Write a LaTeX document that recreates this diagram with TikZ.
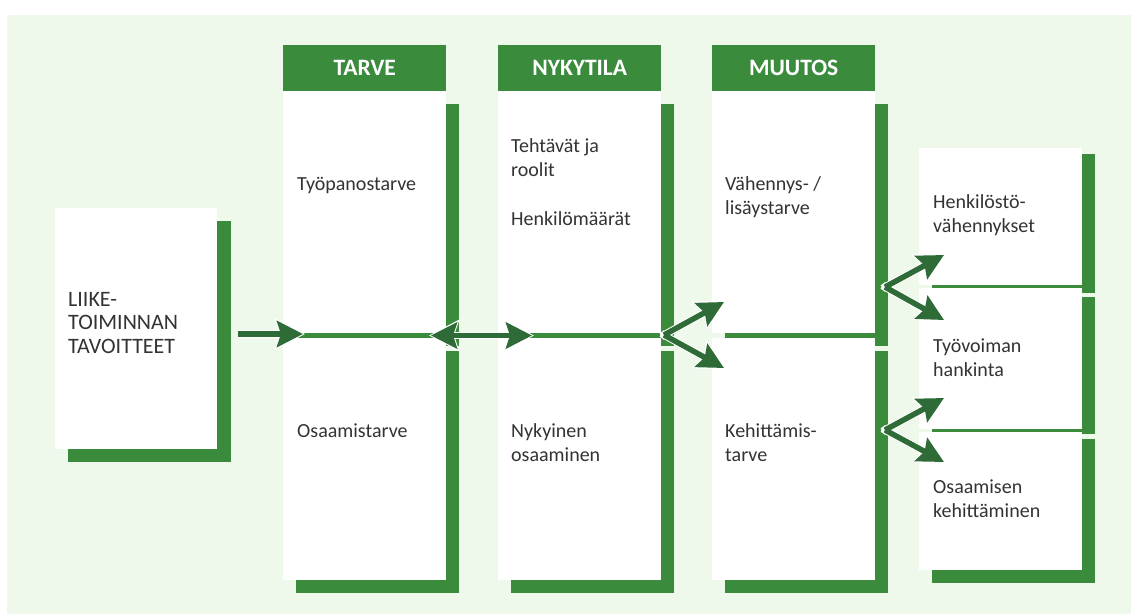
\documentclass[tikz,border=0pt]{standalone}
\usepackage{fontspec}
\setmainfont{Carlito}
\usetikzlibrary{arrows.meta}
\definecolor{bgg}{HTML}{EEF8EB}
\definecolor{shg}{HTML}{3A8B3C}
\definecolor{arg}{HTML}{2E6B37}
\definecolor{txg}{HTML}{333333}
\tikzset{
  panel/.style={fill=white, draw=none, inner sep=0pt, anchor=north west, minimum width=163pt},
  header/.style={fill=shg, draw=none, inner sep=0pt, anchor=north west, minimum width=163pt, minimum height=46pt,
    text=white, font=\fontsize{23.5}{26}\selectfont\bfseries},
  lbl/.style={inner sep=0pt, anchor=base west, align=left, text=txg, font=\fontsize{20}{24}\selectfont},
  halo/.style={draw=white, line width=7.5pt, shorten >=-2pt, -{Stealth[length=30pt,width=31pt,inset=5pt]}},
  arr/.style={draw=arg, line width=5.5pt, -{Stealth[length=26pt,width=26pt,inset=4pt]}},
  halo2/.style={draw=white, line width=7.5pt, shorten >=-2pt, shorten <=-2pt, {Stealth[length=30pt,width=31pt,inset=5pt]}-{Stealth[length=30pt,width=31pt,inset=5pt]}},
  arr2/.style={draw=arg, line width=5.5pt, {Stealth[length=26pt,width=26pt,inset=4pt]}-{Stealth[length=26pt,width=26pt,inset=4pt]}},
}
\begin{document}
\begin{tikzpicture}[x=1pt, y=-1pt]
\useasboundingbox (0,0) rectangle (1131,614);
\fill[white] (0,0) rectangle (1131,614);
\fill[bgg] (7,15) rectangle (1131,614);

% left box
\fill[shg] (68,221) rectangle (231,462);
\node[panel, minimum width=162pt, minimum height=241pt] (goal) at (55,208) {};

% columns: top and bottom boxes with shadows
\foreach \cx/\nm in {283/tarve, 498/nyky, 712/muutos}{
  \fill[shg] (\cx+13,104) rectangle (\cx+176,346);
  \node[panel, minimum height=242pt] (\nm top) at (\cx,91) {};
  \fill[shg] (\cx+13,351) rectangle (\cx+176,593);
  \node[panel, minimum height=242pt] (\nm bot) at (\cx,338) {};
}
\node[header] (h1) at (283,45) {TARVE};
\node[header] (h2) at (498,45) {NYKYTILA};
\node[header] (h3) at (712,45) {MUUTOS};

% right column
\fill[shg] (932,154) rectangle (1095,293);
\node[panel, minimum height=137pt] (ra) at (919,148) {};
\fill[shg] (932,297) rectangle (1095,434);
\node[panel, minimum height=141pt] (rb) at (919,288) {};
\fill[shg] (932,439) rectangle (1095,583);
\node[panel, minimum height=138pt] (rc) at (919,432) {};

% texts (anchor = baseline of the last line)
\node[lbl, font=\fontsize{22}{23.5}\selectfont] (tgoal) at (68,353) {LIIKE-\\TOIMINNAN\\TAVOITTEET};
\node[lbl] (t1) at (297,190) {Työpanostarve};
\node[lbl] (t2) at (297,437) {Osaamistarve};
\node[lbl] (t3) at (511,176) {Tehtävät ja\\roolit};
\node[lbl] (t4) at (511,225) {Henkilömäärät};
\node[lbl] (t5) at (511,461) {Nykyinen\\osaaminen};
\node[lbl] (t6) at (725,214) {Vähennys- /\\lisäystarve};
\node[lbl] (t7) at (725,461) {Kehittämis-\\tarve};
\node[lbl] (t8) at (933,232) {Henkilöstö-\\vähennykset};
\node[lbl] (t9) at (933,376) {Työvoiman\\hankinta};
\node[lbl] (t10) at (933,517) {Osaamisen\\kehittäminen};

% connector points
\coordinate (a0s) at (238,334);
\coordinate (a0e) at (303,334);
\coordinate (d1) at (431,335.5);
\coordinate (d2) at (532,335.5);
\coordinate (b1) at (664,335);
\coordinate (b1u) at (724,302);
\coordinate (b1d) at (724,368);
\coordinate (b2) at (885,287);
\coordinate (b2u) at (944,255);
\coordinate (b2d) at (944,320);
\coordinate (b3) at (885,430);
\coordinate (b3u) at (944,398);
\coordinate (b3d) at (944,462);

% halos
\draw[halo] (a0s) -- (a0e);
\draw[halo2] (d1) -- (d2);
\foreach \o/\t in {b1/b1u, b1/b1d, b2/b2u, b2/b2d, b3/b3u, b3/b3d}{
  \draw[halo, shorten <=-3pt] (\o) -- (\t);
}
% arrows
\draw[arr] (a0s) -- (a0e);
\draw[arr2] (d1) -- (d2);
\foreach \o/\t in {b1/b1u, b1/b1d, b2/b2u, b2/b2d, b3/b3u, b3/b3d}{
  \draw[arr] (\o) -- (\t);
}
\end{tikzpicture}
\end{document}
